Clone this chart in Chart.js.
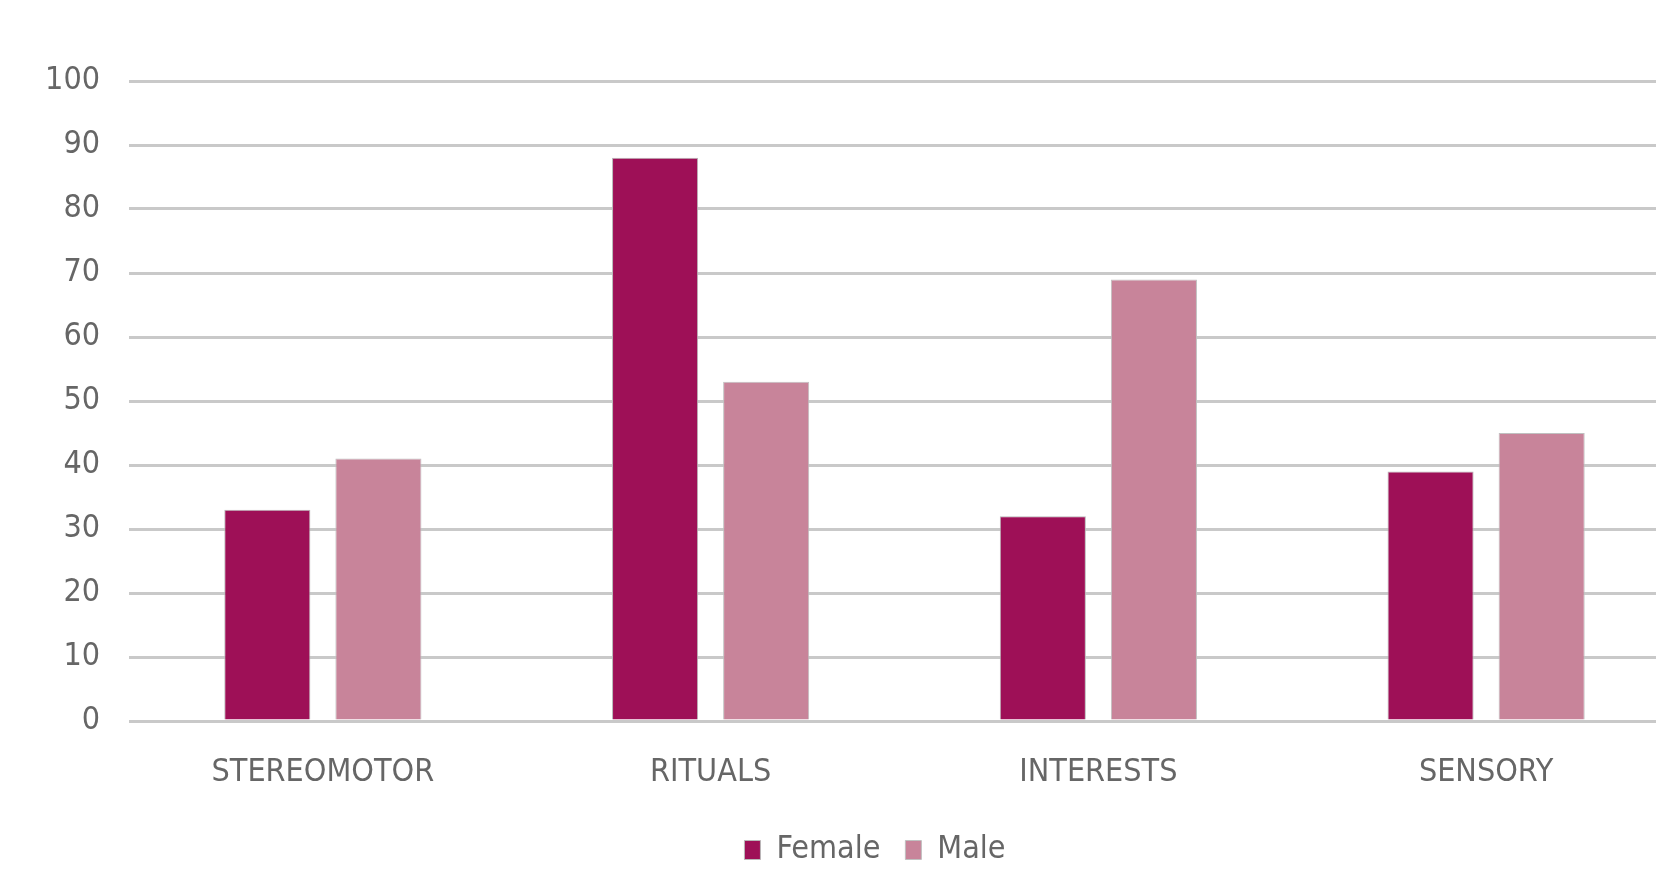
<!DOCTYPE html>
<html>
<head>
<meta charset="utf-8">
<script src="https://cdn.jsdelivr.net/npm/chart.js@4"></script>
<style>
  html, body { margin: 0; padding: 0; background: #fff; overflow: hidden; }
  #wrap { width: 1656px; height: 870px; overflow: hidden; position: relative; }
  canvas { display: block; }
</style>
</head>
<body>
<div id="wrap"><canvas id="chart" width="1680" height="876"></canvas></div>
<script>
const categories = ["STEREOMOTOR", "RITUALS", "INTERESTS", "SENSORY"];
const female = [33, 88, 32, 39];
const male = [41, 53, 69, 45];
const yTicks = [0, 10, 20, 30, 40, 50, 60, 70, 80, 90, 100];

const fontFamily = "'DejaVu Sans Condensed', 'DejaVu Sans', sans-serif";
const textGray = "#666666";

const ctx = document.getElementById("chart").getContext("2d");
const chart = new Chart(ctx, {
    type: "bar",
    data: {
        labels: categories,
        datasets: [
            {
                label: "Female",
                data: female,
                backgroundColor: "#9E1057",
                borderColor: "#b8b8b8",
                borderWidth: 1
            },
            {
                label: "Male",
                data: male,
                backgroundColor: "#C8849A",
                borderColor: "#c0c0c0",
                borderWidth: 1
            }
        ]
    },
    options: {
        responsive: false,
        animation: false,
        devicePixelRatio: 1,
        // left padding pushes the legend a bit right, like the original
        layout: { padding: { top: 81, right: 0, left: 70, bottom: 0 } },
        categoryPercentage: 0.573,
        barPercentage: 0.775,
        plugins: {
            tooltip: { enabled: false },
            legend: {
                position: "bottom",
                labels: {
                    color: textGray,
                    font: { family: fontFamily, size: 32 },
                    boxWidth: 16,
                    boxHeight: 19,
                    padding: 25
                }
            }
        },
        scales: {
            x: {
                grid: { display: false },
                border: { display: false },
                ticks: {
                    color: textGray,
                    font: { family: fontFamily, size: 32 },
                    padding: 24
                },
                afterFit: (scale) => { scale.height = 88; }
            },
            y: {
                min: 0,
                max: 100,
                afterBuildTicks: (scale) => { scale.ticks = yTicks.map(v => ({ value: v })); },
                grid: { color: "#c9c9c9", lineWidth: 3, drawTicks: false },
                border: { display: false },
                ticks: {
                    color: textGray,
                    font: { family: fontFamily, size: 32 },
                    padding: 29
                },
                afterFit: (scale) => {
                    scale.width = 59;
                    // labels hang out past the padded box, so don't clip them
                    scale._computeLabelArea = () => undefined;
                }
            }
        }
    }
});
</script>
</body>
</html>
